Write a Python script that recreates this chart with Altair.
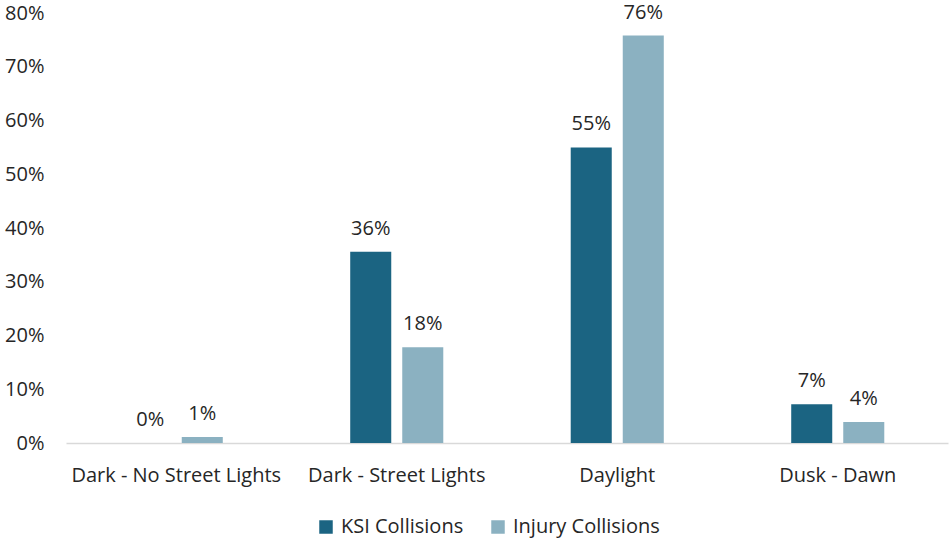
import altair as alt
import pandas as pd

# Share of collisions by light condition
conditions = ["Dark - No Street Lights", "Dark - Street Lights", "Daylight", "Dusk - Dawn"]
ksi = [0.0, 0.356, 0.550, 0.072]
injury = [0.011, 0.178, 0.758, 0.039]
series = ["KSI Collisions", "Injury Collisions"]
colors = ["#1b6482", "#8bb1c1"]

rows = []
for i, c in enumerate(conditions):
    rows.append({"condition": c, "series": series[0], "share": ksi[i]})
    rows.append({"condition": c, "series": series[1], "share": injury[i]})
df = pd.DataFrame(rows)

FONT = "Open Sans"
TXT = "#262626"
FS = 20

x_enc = alt.X(
    "condition:N",
    sort=conditions,
    title=None,
    scale=alt.Scale(paddingInner=0.528, paddingOuter=0.264),
    axis=alt.Axis(
        labelAngle=0,
        ticks=False,
        domainColor="#d9d9d9",
        domainWidth=1.3,
        labelPadding=22,
        labelLimit=400,
        labelFontSize=FS,
        labelFont=FONT,
        labelColor=TXT,
    ),
)
xoff = alt.XOffset(
    "series:N",
    sort=series,
    scale=alt.Scale(paddingInner=0.2115, paddingOuter=0.1058),
)
y_enc = alt.Y(
    "share:Q",
    title=None,
    scale=alt.Scale(domain=[0, 0.8], nice=False),
    axis=alt.Axis(
        format=".0%",
        values=[0, 0.1, 0.2, 0.3, 0.4, 0.5, 0.6, 0.7, 0.8],
        grid=False,
        domain=False,
        ticks=False,
        labelPadding=22,
        labelFontSize=FS,
        labelFont=FONT,
        labelColor=TXT,
    ),
)

base = alt.Chart(df).encode(x=x_enc, xOffset=xoff, y=y_enc)

bars = base.mark_bar().encode(
    color=alt.Color(
        "series:N",
        sort=series,
        scale=alt.Scale(domain=series, range=colors),
        legend=alt.Legend(
            title=None,
            orient="none",
            direction="horizontal",
            legendX=250,
            legendY=504,
            symbolType="square",
            symbolSize=182,
            symbolStrokeWidth=0,
            labelFontSize=FS,
            labelFont=FONT,
            labelColor=TXT,
            labelOffset=5,
            columnPadding=24,
        ),
    )
)

labels = base.mark_text(
    baseline="alphabetic", dy=-17, fontSize=FS, font=FONT, color=TXT
).encode(text=alt.Text("share:Q", format=".0%"))

chart = (
    alt.layer(bars, labels)
    .properties(
        width=882,
        height=430,
        background="white",
        autosize=alt.AutoSizeParams(type="none"),
        padding={"left": 66, "top": 13, "right": 2, "bottom": 96},
    )
    .configure_view(strokeWidth=0, stroke=None)
)

chart.save("out.html", embed_options={"renderer": "svg", "actions": False})
